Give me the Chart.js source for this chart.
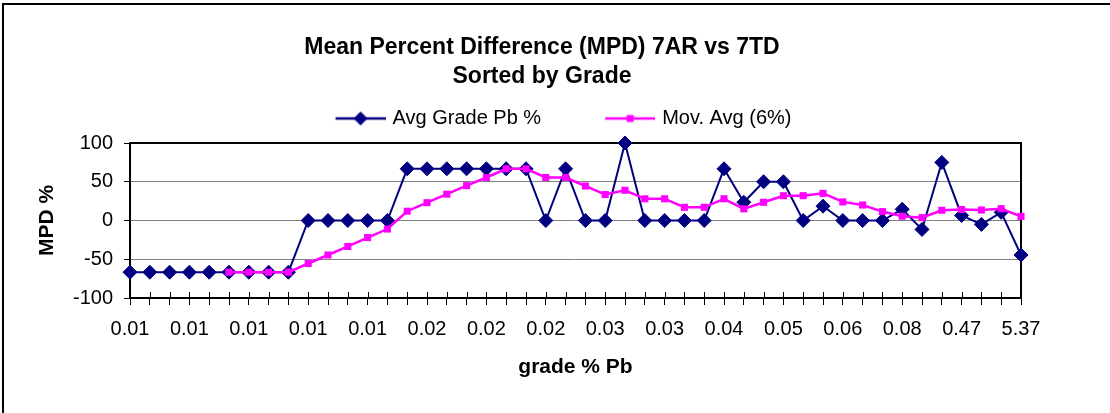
<!DOCTYPE html>
<html>
<head>
<meta charset="utf-8">
<script src="https://cdn.jsdelivr.net/npm/chart.js@4/dist/chart.umd.min.js"></script>
<style>
html,body{margin:0;padding:0;background:#fff;}
#wrap{width:1110px;height:413px;position:relative;}
canvas{display:block;}
</style>
</head>
<body>
<div id="wrap"><canvas id="c" width="1110" height="413"></canvas></div>
<script>
// ---- data ----
const categories = [
  "0.01","0.01","0.01","0.01","0.01","0.01","0.01","0.01","0.01","0.01",
  "0.01","0.01","0.01","0.01","0.01","0.02","0.02","0.02","0.02","0.02",
  "0.02","0.02","0.02","0.02","0.03","0.03","0.03","0.03","0.03","0.03",
  "0.04","0.04","0.04","0.05","0.05","0.05","0.06","0.06","0.06","0.08",
  "0.09","0.21","0.47","0.89","1.52","5.37"
];
const avgGradePb = [
  -66.7,-66.7,-66.7,-66.7,-66.7,-66.7,-66.7,-66.7,-66.7,0,
  0,0,0,0,66.7,66.7,66.7,66.7,66.7,66.7,
  66.7,0,66.7,0,0,100,0,0,0,0,
  66.7,23.5,50,50,0,18.5,0,0,0,14.5,
  -11.5,75,6.5,-5,10.5,-44.5
];
const movAvg6 = [
  null,null,null,null,null,-66.7,-66.7,-66.7,-66.7,-55.5,
  -44.5,-33.5,-22,-11,12,23,34,45,55.5,66.7,
  66.7,55.5,55.5,44.5,33.5,39,28,28,17,17,
  28,15,23.5,32,32,35,24,20,11.5,5.5,
  3.7,13.2,14.2,13.5,15.2,5.3
];
const seriesNames = ["Avg Grade Pb %", "Mov. Avg (6%)"];
const titleLines = ["Mean Percent Difference (MPD) 7AR vs 7TD", "Sorted by Grade"];
const xTitle = "grade % Pb";
const yTitle = "MPD %";
const yMin = -100, yMax = 100, yStep = 50;
const labelEvery = 3;

// ---- styling ----
const FONT = "'Liberation Sans', Arial, Helvetica, sans-serif";
const NAVY = "#000080";
const MAGENTA = "#FF00FF";

function makeIcon(kind) {
  const W = 96, H = 20;
  const c = document.createElement('canvas');
  c.width = W; c.height = H;
  const g = c.getContext('2d');
  const cy = H / 2, cx = W - 25;
  g.strokeStyle = kind === 'diamond' ? NAVY : MAGENTA;
  g.lineWidth = 2.5;
  g.beginPath(); g.moveTo(W - 50, cy); g.lineTo(W, cy); g.stroke();
  if (kind === 'diamond') {
    g.fillStyle = NAVY;
    g.beginPath();
    g.moveTo(cx - 7, cy); g.lineTo(cx, cy - 7); g.lineTo(cx + 7, cy); g.lineTo(cx, cy + 7);
    g.closePath(); g.fill();
  } else {
    g.fillStyle = MAGENTA;
    g.fillRect(cx - 3.5, cy - 3.5, 7, 7);
  }
  return c;
}
const legendIcons = [makeIcon('diamond'), makeIcon('square')];

const outerFrame = {
  id: 'outerFrame',
  beforeDraw(chart) {
    const ctx = chart.ctx;
    ctx.save();
    ctx.fillStyle = '#fff';
    ctx.fillRect(0, 0, chart.width, chart.height);
    ctx.fillStyle = '#000';
    ctx.fillRect(2, 3, chart.width - 2, 2);
    ctx.fillRect(2, 3, 2, chart.height - 3);
    ctx.restore();
  }
};

const plotFrame = {
  id: 'plotFrame',
  beforeDatasetsDraw(chart) {
    const {ctx, chartArea: a, scales: {x}} = chart;
    ctx.save();
    ctx.strokeStyle = '#000';
    ctx.lineWidth = 1;
    ctx.beginPath();
    for (let i = 0; i < categories.length; i++) {
      const px = Math.round(x.getPixelForValue(i)) + 0.5;
      ctx.moveTo(px, a.bottom - 6);
      ctx.lineTo(px, a.bottom);
    }
    ctx.stroke();
    ctx.lineWidth = 2;
    ctx.strokeRect(a.left, a.top, a.right - a.left, a.bottom - a.top);
    ctx.restore();
  }
};

Chart.defaults.font.family = FONT;
Chart.defaults.color = '#000';

new Chart(document.getElementById('c'), {
  type: 'line',
  data: {
    labels: categories,
    datasets: [
      {
        label: seriesNames[0],
        data: avgGradePb,
        borderColor: NAVY,
        backgroundColor: NAVY,
        borderWidth: 2,
        pointStyle: 'rectRot',
        pointRadius: 7,
        pointHoverRadius: 7,
        pointBorderWidth: 1,
        pointBackgroundColor: NAVY,
        pointBorderColor: NAVY,
        tension: 0,
        clip: false,
        order: 1
      },
      {
        label: seriesNames[1],
        data: movAvg6,
        borderColor: MAGENTA,
        backgroundColor: MAGENTA,
        borderWidth: 2.5,
        pointStyle: 'rect',
        pointRadius: 5,
        pointHoverRadius: 5,
        pointBorderWidth: 0,
        pointBackgroundColor: MAGENTA,
        tension: 0,
        clip: false,
        order: 0
      }
    ]
  },
  options: {
    responsive: false,
    animation: false,
    events: [],
    layout: { padding: { left: 63, right: 89, top: 0, bottom: 0 } },
    plugins: {
      title: {
        display: true,
        text: titleLines,
        color: '#000',
        font: { size: 23, weight: 'bold', lineHeight: 1.26 },
        padding: { top: 33.5, bottom: -3.96 }
      },
      subtitle: {
        display: true,
        text: '',
        weight: 500,
        font: { size: 1, lineHeight: 1 },
        padding: { top: 3.5, bottom: 0 }
      },
      legend: {
        display: true,
        position: 'top',
        labels: {
          color: '#000',
          font: { size: 20 },
          usePointStyle: true,
          pointStyleWidth: 90,
          padding: 21,
          generateLabels(chart) {
            const items = Chart.defaults.plugins.legend.labels.generateLabels(chart);
            items.sort((a, b) => a.datasetIndex - b.datasetIndex);
            items.forEach(it => { it.pointStyle = legendIcons[it.datasetIndex]; });
            return items;
          }
        }
      },
      tooltip: { enabled: false }
    },
    scales: {
      x: {
        type: 'category',
        offset: false,
        afterFit(s) { s.height = 115; },
        grid: {
          display: true,
          drawOnChartArea: false,
          drawTicks: true,
          tickLength: 7,
          tickColor: '#000',
          color: '#000',
          offset: false
        },
        border: { display: false },
        ticks: {
          autoSkip: false,
          maxRotation: 0,
          minRotation: 0,
          padding: 12.5,
          color: '#000',
          font: { size: 20 },
          callback(v, i) { return i % labelEvery === 0 ? this.getLabelForValue(v) : ''; }
        },
        title: {
          display: true,
          text: xTitle,
          color: '#000',
          font: { size: 21, weight: 'bold' },
          padding: { top: 0, bottom: 33.4 }
        }
      },
      y: {
        min: yMin,
        max: yMax,
        afterFit(s) { s.width = 67; },
        grid: {
          color: '#808080',
          lineWidth: 1,
          tickColor: '#000',
          tickLength: 6,
          drawTicks: true
        },
        border: { display: false },
        ticks: {
          stepSize: yStep,
          padding: 11,
          color: '#000',
          font: { size: 20 }
        },
        title: {
          display: true,
          text: yTitle,
          color: '#000',
          font: { size: 21, weight: 'bold' },
          padding: { top: -28.6, bottom: 0 }
        }
      }
    }
  },
  plugins: [outerFrame, plotFrame]
});
</script>
</body>
</html>
